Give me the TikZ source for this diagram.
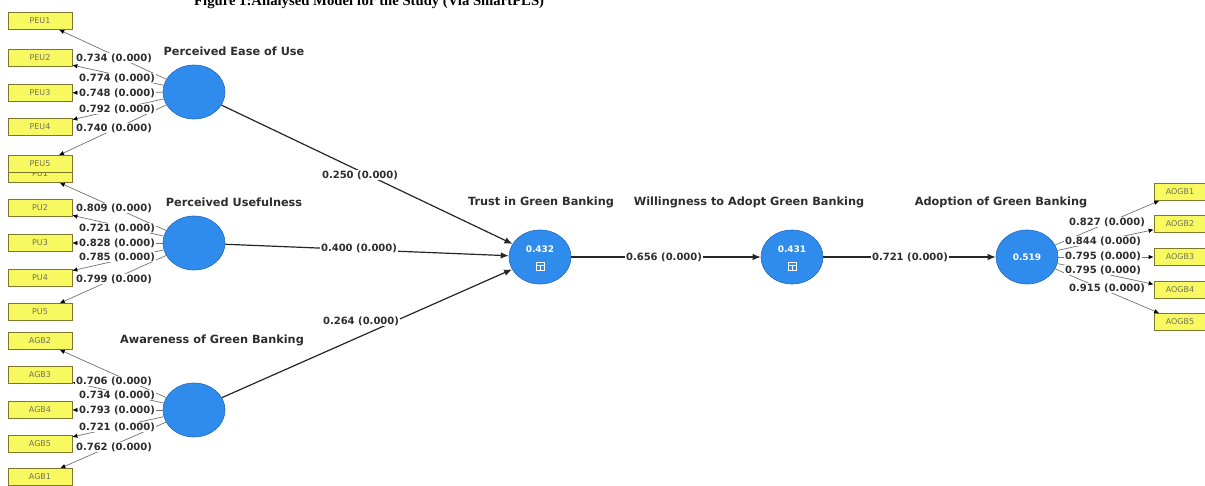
\documentclass[tikz,border=0pt]{standalone}
\usepackage{fontspec}
\setmainfont{DejaVu Sans}
\newfontfamily\titlefont{Liberation Serif}
\usetikzlibrary{shapes.geometric,arrows.meta,calc}
\definecolor{lvblue}{RGB}{48,140,236}
\definecolor{lvedge}{RGB}{35,105,190}
\definecolor{boxyellow}{RGB}{248,248,96}
\definecolor{boxedge}{RGB}{125,120,45}
\definecolor{boxtext}{RGB}{115,115,95}
\definecolor{labtext}{RGB}{45,45,45}
\begin{document}
\begin{tikzpicture}[x=1pt,y=-1pt,
  lv/.style={ellipse, draw=lvedge, line width=0.6pt, fill=lvblue, minimum width=62pt, minimum height=54pt, inner sep=0pt},
  lvval/.style={text=white, font=\bfseries\fontsize{9}{9}\selectfont, inner sep=0pt},
  ind/.style={rectangle, draw=boxedge, line width=0.7pt, fill=boxyellow, minimum width=64pt, minimum height=17pt, inner sep=0pt, text=boxtext, font=\fontsize{8}{8}\selectfont},
  rind/.style={ind, minimum width=52pt},
  load/.style={fill=white, inner sep=0.6pt, text=labtext, font=\bfseries\fontsize{10}{10}\selectfont},
  lvtitle/.style={inner sep=0pt, text=labtext, font=\bfseries\fontsize{11.3}{11.3}\selectfont},
  inner/.style={draw=black!85, line width=1.2pt, -{Latex[length=8pt,width=6.5pt]}},
  outer/.style={draw=black!55, line width=0.7pt, -{Latex[length=5pt,width=4.5pt,color=black]}},
  icon/.style={draw=white, line width=0.6pt}]
\useasboundingbox (0,0) rectangle (1205,486);
\clip (0,0) rectangle (1205,486);
\fill[white] (0,0) rectangle (1205,486);

% cut-off caption at the top
\node[anchor=base west, inner sep=0pt, font=\titlefont\bfseries\fontsize{14.7}{14.7}\selectfont] (caption) at (194,5.5) {Figure 1:Analysed Model for the Study (Via SmartPLS)};

% latent variables
\node[lv] (peu) at (194,92) {};
\node[lv] (pu) at (194,243) {};
\node[lv] (agb) at (194,410) {};
\node[lv] (trust) at (540,257) {};
\node[lv] (will) at (792,257) {};
\node[lv] (adopt) at (1027,257) {};

% titles
\node[lvtitle] (tpeu) at (234,51) {Perceived Ease of Use};
\node[lvtitle] (tpu) at (234,202) {Perceived Usefulness};
\node[lvtitle] (tagb) at (212,340) {Awareness of Green Banking};
\node[lvtitle] (ttrust) at (541,202) {Trust in Green Banking};
\node[lvtitle] (twill) at (749,202) {Willingness to Adopt Green Banking};
\node[lvtitle] (tadopt) at (1001,202) {Adoption of Green Banking};

% indicators (left)
\node[ind] (pu1) at (40,174) {PU1};
\node[ind] (peu1) at (40,21) {PEU1};
\node[ind] (peu2) at (40,58) {PEU2};
\node[ind] (peu3) at (40,93) {PEU3};
\node[ind] (peu4) at (40,127) {PEU4};
\node[ind] (peu5) at (40,164) {PEU5};
\node[ind] (pu2) at (40,208) {PU2};
\node[ind] (pu3) at (40,243) {PU3};
\node[ind] (pu4) at (40,278) {PU4};
\node[ind] (pu5) at (40,312) {PU5};
\node[ind] (agb2) at (40,341) {AGB2};
\node[ind] (agb3) at (40,375) {AGB3};
\node[ind] (agb4) at (40,410) {AGB4};
\node[ind] (agb5) at (40,444) {AGB5};
\node[ind] (agb1) at (40,477) {AGB1};
% indicators (right)
\node[rind] (aogb1) at (1180,192) {AOGB1};
\node[rind] (aogb2) at (1180,224) {AOGB2};
\node[rind] (aogb3) at (1180,257) {AOGB3};
\node[rind] (aogb4) at (1180,290) {AOGB4};
\node[rind] (aogb5) at (1180,322) {AOGB5};

% outer loadings
\foreach \i in {1,...,5} {\draw[outer] (peu) -- (peu\i); \draw[outer] (pu) -- (pu\i); \draw[outer] (agb) -- (agb\i); \draw[outer] (adopt) -- (aogb\i);}

% inner paths
\draw[inner] (peu) -- (trust);
\draw[inner] (pu) -- (trust);
\draw[inner] (agb) -- (trust);
\draw[inner] (trust) -- (will);
\draw[inner] (will) -- (adopt);

% path coefficients
\node[load] (c1) at (360,175) {0.250 (0.000)};
\node[load] (c2) at (359,248) {0.400 (0.000)};
\node[load] (c3) at (361,321) {0.264 (0.000)};
\node[load] (c4) at (664,257) {0.656 (0.000)};
\node[load] (c5) at (910,257) {0.721 (0.000)};

% loadings PEU
\node[load] (l11) at (114,58) {0.734 (0.000)};
\node[load] (l12) at (117,78) {0.774 (0.000)};
\node[load] (l13) at (117,93) {0.748 (0.000)};
\node[load] (l14) at (117,109) {0.792 (0.000)};
\node[load] (l15) at (114,128) {0.740 (0.000)};
% loadings PU
\node[load] (l21) at (114,208) {0.809 (0.000)};
\node[load] (l22) at (117,228) {0.721 (0.000)};
\node[load] (l23) at (117,243) {0.828 (0.000)};
\node[load] (l24) at (117,257) {0.785 (0.000)};
\node[load] (l25) at (114,279) {0.799 (0.000)};
% loadings AGB
\node[load] (l31) at (114,381) {0.706 (0.000)};
\node[load] (l32) at (117,395) {0.734 (0.000)};
\node[load] (l33) at (117,410) {0.793 (0.000)};
\node[load] (l34) at (117,427) {0.721 (0.000)};
\node[load] (l35) at (114,447) {0.762 (0.000)};
% loadings AOGB
\node[load] (l41) at (1107,222) {0.827 (0.000)};
\node[load] (l42) at (1103,241) {0.844 (0.000)};
\node[load] (l43) at (1103,256) {0.795 (0.000)};
\node[load] (l44) at (1103,270) {0.795 (0.000)};
\node[load] (l45) at (1107,288) {0.915 (0.000)};

% R-square values
\node[lvval] (vtrust) at ($(trust)+(0,-8)$) {0.432};
\node[lvval] (vwill) at ($(will)+(0,-8)$) {0.431};
\node[lvval] (vadopt) at (adopt) {0.519};
\foreach \n in {trust,will} {
  \draw[icon] ($(\n)+(-4,5)$) rectangle ($(\n)+(4,13)$);
  \draw[icon] ($(\n)+(-4,8)$) -- ($(\n)+(4,8)$);
  \draw[icon] ($(\n)+(0,8)$) -- ($(\n)+(0,13)$);
}
\end{tikzpicture}
\end{document}
